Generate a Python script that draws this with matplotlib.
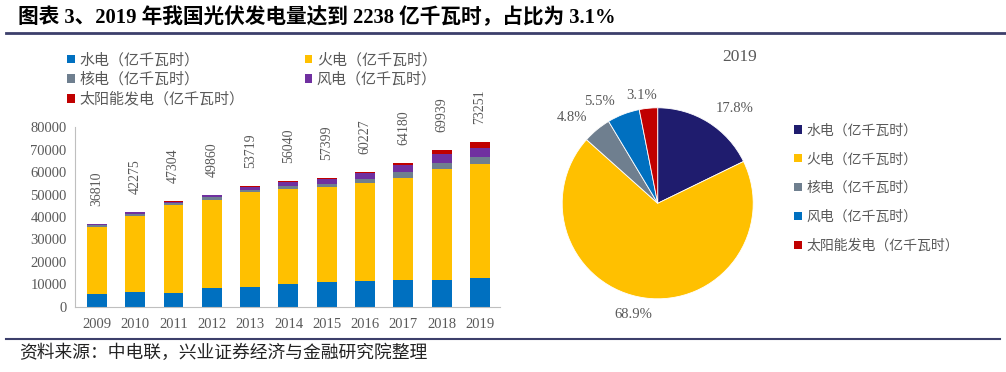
import matplotlib
matplotlib.use("Agg")
import matplotlib.pyplot as plt
from matplotlib.patches import Patch
from matplotlib.lines import Line2D
import numpy as np

years = ["2009", "2010", "2011", "2012", "2013", "2014", "2015", "2016", "2017", "2018", "2019"]
hydro = [5500, 6690, 6250, 8330, 8770, 10110, 11000, 11450, 11900, 11900, 12640]
thermal = [30190, 33910, 39100, 39250, 42230, 42380, 42230, 43570, 45500, 49360, 50850]
nuclear = [700, 890, 750, 1190, 1050, 1340, 1640, 1930, 2530, 2980, 3270]
wind = [500, 590, 740, 900, 1180, 1930, 2080, 2530, 3120, 3720, 4020]
solar = [0, 0, 300, 300, 400, 450, 450, 600, 890, 1930, 2680]
totals = [36810, 42275, 47304, 49860, 53719, 56040, 57399, 60227, 64180, 69939, 73251]
yticks = [0, 10000, 20000, 30000, 40000, 50000, 60000, 70000, 80000]

series_names = ["水电（亿千瓦时）", "火电（亿千瓦时）", "核电（亿千瓦时）", "风电（亿千瓦时）", "太阳能发电（亿千瓦时）"]
bar_colors = ["#0070C0", "#FFC000", "#6F7F8F", "#7030A0", "#C00000"]

pie_year = "2019"
pie_share = [17.8, 68.9, 4.8, 5.5, 3.1]
pie_colors = ["#1F1C6E", "#FFC000", "#6F7F8F", "#0070C0", "#C00000"]

title = "图表 3、2019 年我国光伏发电量达到 2238 亿千瓦时，占比为 3.1%"
source = "资料来源：中电联，兴业证券经济与金融研究院整理"

FAM = ["Liberation Serif", "Noto Sans CJK SC"]
plt.rcParams["font.family"] = FAM
GRAY = "#595959"

W, H = 1006, 372
fig = plt.figure(figsize=(W / 100, H / 100), dpi=100)

def fx(px):
    return px / W

def fy(py):
    return 1 - py / H

# Title and rules
fig.text(fx(18), fy(18), title, fontsize=14.9, fontweight="bold", color="black",
         ha="left", va="center")
fig.add_artist(Line2D([fx(6), fx(1006)], [fy(33), fy(33)], color="#3C3F6B", lw=2))
fig.add_artist(Line2D([fx(6), fx(1000)], [fy(339), fy(339)], color="#3C3F6B", lw=1.5))
fig.text(fx(19), fy(353), source, fontsize=12.8, color="#222222", ha="left", va="center")

# Bar chart
ax = fig.add_axes([fx(75), fy(306.7), fx(500 - 75), (306.7 - 127.3) / H])
x = np.arange(len(years))
bottom = np.zeros(len(years))
handles = []
for vals, col, name in zip([hydro, thermal, nuclear, wind, solar], bar_colors, series_names):
    ax.bar(x, vals, width=0.52, bottom=bottom, color=col, label=name)
    bottom += np.array(vals)
    handles.append(Patch(facecolor=col, label=name))

for xi, top, tot in zip(x, bottom, totals):
    ax.annotate(str(tot), (xi, top), xytext=(0, 13), textcoords="offset points",
                rotation=90, ha="center", va="bottom", fontsize=10, color=GRAY,
                annotation_clip=False)

ax.set_xlim(-0.57, 10.52)
ax.set_ylim(0, 80000)
ax.set_xticks(x)
ax.set_xticklabels(years)
ax.set_yticks(yticks)
ax.set_yticklabels([str(v) for v in yticks])
ax.tick_params(axis="both", length=0, labelsize=10.5, colors=GRAY)
ax.tick_params(axis="x", pad=8)
ax.tick_params(axis="y", pad=6)
for s in ["top", "right"]:
    ax.spines[s].set_visible(False)
for s in ["left", "bottom"]:
    ax.spines[s].set_color("#BFBFBF")
    ax.spines[s].set_linewidth(0.8)

order = [0, 2, 4, 1, 3]
leg = fig.legend([handles[i] for i in order], [series_names[i] for i in order],
                 loc="upper left", bbox_to_anchor=(fx(67), fy(53)), ncol=2,
                 frameon=False, fontsize=10.8, handlelength=0.5, handleheight=0.5,
                 handletextpad=0.3, columnspacing=4.05, labelspacing=0.33,
                 borderaxespad=0, borderpad=0)
for t in leg.get_texts():
    t.set_color(GRAY)

# Pie chart
cx, cy, r = 657.7, 203.3, 95.5
pax = fig.add_axes([fx(cx - r), fy(cy + r), 2 * r / W, 2 * r / H])
wedges, _ = pax.pie(pie_share, colors=pie_colors, startangle=90, counterclock=False,
                    radius=1, wedgeprops=dict(edgecolor="white", linewidth=0.6))
pax.set_xlim(-1, 1)
pax.set_ylim(-1, 1)
pax.set_aspect("auto")
pax.axis("off")

label_pos = [(0.81, 0.99), (-0.26, -1.16), (-0.90, 0.90), (-0.61, 1.07), (-0.17, 1.13)]
for share, (lx, ly) in zip(pie_share, label_pos):
    pax.text(lx, ly, f"{share:.1f}%", ha="center", va="center", fontsize=10.5,
             color=GRAY, clip_on=False)

fig.text(fx(740), fy(57), pie_year, fontsize=12.5, color=GRAY, ha="center", va="center")

pleg = fig.legend([Patch(facecolor=c) for c in pie_colors], series_names,
                  loc="upper left", bbox_to_anchor=(fx(794), fy(124)), ncol=1,
                  frameon=False, fontsize=10, handlelength=0.55, handleheight=0.55,
                  handletextpad=0.35, labelspacing=1.12, borderaxespad=0, borderpad=0)
for t in pleg.get_texts():
    t.set_color(GRAY)

fig.savefig("out.png", dpi=100)
